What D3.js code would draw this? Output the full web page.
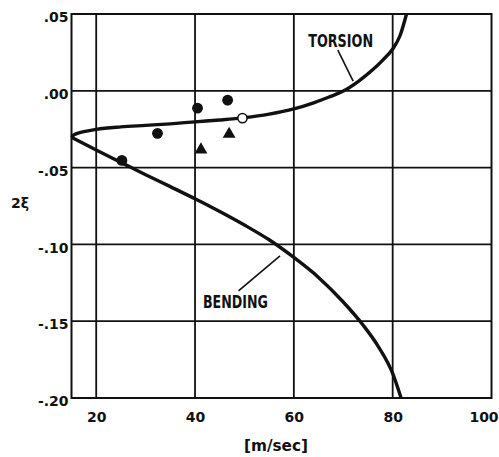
<!DOCTYPE html>
<html>
<head>
<meta charset="utf-8">
<script src="https://cdn.jsdelivr.net/npm/d3@7/dist/d3.min.js"></script>
<style>
  html, body { margin: 0; padding: 0; background: #fff; }
  svg { display: block; }
  text { font-family: "DejaVu Sans", sans-serif; font-weight: bold; fill: #111; }
  .narrow { font-family: "DejaVu Sans Condensed", "DejaVu Sans", sans-serif; font-stretch: condensed; }
</style>
</head>
<body>
<svg id="chart" width="499" height="457"></svg>
<script>
// ---- data ----
const xDomain = [15, 100];
const yDomain = [-0.20, 0.05];
const xTicks = [20, 40, 60, 80, 100];
const xTickLabels = ["20", "40", "60", "80", "100"];
const yTicks = [0.05, 0.00, -0.05, -0.10, -0.15, -0.20];
const yTickLabels = [".05", ".00", "-.05", "-.10", "-.15", "-.20"];
const xGrid = [20, 40, 60, 80];
const yGrid = [0.00, -0.05, -0.10, -0.15];

const torsion = [
  [15, -0.0303], [15.3, -0.0292], [15.8, -0.0282], [16.5, -0.0274], [17.5, -0.0266],
  [20, -0.0251], [25, -0.0235], [30, -0.0225], [35, -0.0215], [40, -0.0202],
  [45, -0.0190], [50, -0.0175], [55, -0.0152], [60, -0.0118], [64, -0.0078],
  [67, -0.0042], [70, -0.0002], [73, 0.0060], [76, 0.0138], [78, 0.0200],
  [80, 0.0272], [81.5, 0.0360], [82.8, 0.050]
];
const bending = [
  [15, -0.0303], [20, -0.0386], [25, -0.0466], [30, -0.0546], [35, -0.0624],
  [40, -0.0703], [45, -0.0786], [50, -0.0874], [55, -0.0970], [60, -0.1085],
  [65, -0.1215], [70, -0.1375], [74, -0.1525], [77, -0.1660], [80, -0.1840],
  [81.7, -0.200]
];
const filledCircles = [[25.2, -0.0453], [32.4, -0.0277], [40.5, -0.0113], [46.6, -0.0061]];
const openCircles = [[49.6, -0.0178]];
const triangles = [[41.2, -0.0384], [46.9, -0.0282]];

const annotations = [
  { text: "TORSION", x: 62.9, y: 0.0287, x1: 68.9, y1: 0.0265, x2: 72.0, y2: 0.0063 },
  { text: "BENDING", x: 41.6, y: -0.1413, x1: 48.8, y1: -0.1302, x2: 57.2, y2: -0.1074 }
];
const xTitle = "[m/sec]";
const yTitle = "2\u03BE";

// ---- layout ----
const svg = d3.select("#chart");
const L = 71.5, R = 491.5, T = 14, B = 398;
const x = d3.scaleLinear().domain(xDomain).range([L, R]);
const y = d3.scaleLinear().domain(yDomain).range([B, T]);

// grid
svg.append("g").selectAll("line").data(xGrid).join("line")
  .attr("x1", d => x(d)).attr("x2", d => x(d)).attr("y1", T).attr("y2", B)
  .attr("stroke", "#111").attr("stroke-width", 1.8);
svg.append("g").selectAll("line").data(yGrid).join("line")
  .attr("x1", L).attr("x2", R).attr("y1", d => y(d)).attr("y2", d => y(d))
  .attr("stroke", "#111").attr("stroke-width", 1.8);

// frame
svg.append("rect").attr("x", L).attr("y", T).attr("width", R - L).attr("height", B - T)
  .attr("fill", "none").attr("stroke", "#111").attr("stroke-width", 2);

// axes
const xAxis = svg.append("g").attr("transform", `translate(0,${B})`)
  .call(d3.axisBottom(x).tickValues(xTicks).tickSize(0).tickPadding(14)
    .tickFormat((d, i) => xTickLabels[i]));
xAxis.select(".domain").remove();
xAxis.selectAll("text").attr("font-size", 14).attr("font-family", null).attr("fill", "#111")
  .attr("dx", (d, i) => i === xTicks.length - 1 ? -8 : 0);

const yAxis = svg.append("g").attr("transform", `translate(${L},0)`)
  .call(d3.axisLeft(y).tickValues(yTicks).tickSize(0).tickPadding(3)
    .tickFormat((d, i) => yTickLabels[i]));
yAxis.select(".domain").remove();
yAxis.selectAll("text").attr("font-size", 14).attr("font-family", null).attr("fill", "#111")
  .attr("dy", "0.55em");

// titles
svg.append("text").attr("class", "narrow").attr("x", 244).attr("y", 451)
  .attr("font-size", 16).attr("textLength", 64).attr("lengthAdjust", "spacingAndGlyphs").text(xTitle);
svg.append("text").attr("x", 20).attr("y", 208).attr("text-anchor", "middle")
  .attr("font-size", 14).text(yTitle);

// curves
const line = d3.line().x(d => x(d[0])).y(d => y(d[1])).curve(d3.curveMonotoneX);
[torsion, bending].forEach(s => {
  svg.append("path").attr("d", line(s)).attr("fill", "none")
    .attr("stroke", "#111").attr("stroke-width", 3.4).attr("stroke-linejoin", "round");
});

// annotations
annotations.forEach(a => {
  svg.append("line").attr("x1", x(a.x1)).attr("y1", y(a.y1)).attr("x2", x(a.x2)).attr("y2", y(a.y2))
    .attr("stroke", "#111").attr("stroke-width", 1.6);
  svg.append("text").attr("class", "narrow").attr("x", x(a.x)).attr("y", y(a.y))
    .attr("font-size", 17).attr("textLength", 65).attr("lengthAdjust", "spacingAndGlyphs").text(a.text);
});

// markers
svg.append("g").selectAll("circle").data(filledCircles).join("circle")
  .attr("cx", d => x(d[0])).attr("cy", d => y(d[1])).attr("r", 5.4).attr("fill", "#111");
svg.append("g").selectAll("circle").data(openCircles).join("circle")
  .attr("cx", d => x(d[0])).attr("cy", d => y(d[1])).attr("r", 4.6)
  .attr("fill", "#fff").attr("stroke", "#111").attr("stroke-width", 1.6);
svg.append("g").selectAll("path").data(triangles).join("path")
  .attr("transform", d => `translate(${x(d[0])},${y(d[1])})`)
  .attr("d", d3.symbol(d3.symbolTriangle, 72)).attr("fill", "#111");
</script>
</body>
</html>
